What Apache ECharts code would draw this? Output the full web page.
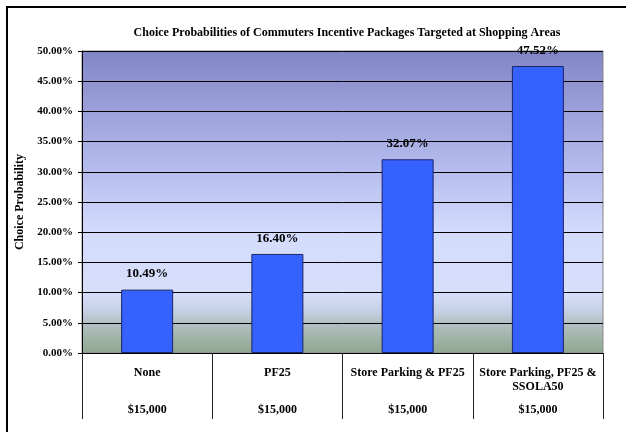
<!DOCTYPE html>
<html>
<head>
<meta charset="utf-8">
<title>Choice Probabilities</title>
<script src="https://cdn.jsdelivr.net/npm/echarts@6/dist/echarts.min.js"></script>
<style>
  html, body { margin: 0; padding: 0; background: #fff; }
  #main { width: 626px; height: 432px; }
</style>
</head>
<body>
<div id="main"></div>
<script type="text/javascript">
// data
var packages = ['None', 'PF25', 'Store Parking & PF25', 'Store Parking, PF25 &\nSSOLA50'];
var incomes = ['$15,000', '$15,000', '$15,000', '$15,000'];
var probabilities = [0.1049, 0.1640, 0.3207, 0.4752];

var serif = '"Liberation Serif", "Times New Roman", serif';
var myChart = echarts.init(document.getElementById('main'));

var option = {
  animation: false,
  title: {
    text: 'Choice Probabilities of Commuters Incentive Packages Targeted at Shopping Areas',
    left: 342,
    textAlign: 'center',
    top: 22,
    textStyle: { fontFamily: serif, fontSize: 12, fontWeight: 'bold', color: '#000' }
  },
  graphic: [{
    type: 'rect',
    shape: { x: 7, y: 7, width: 640, height: 440 },
    style: { fill: 'none', stroke: '#000', lineWidth: 2 },
    silent: true
  }],
  grid: {
    left: 82, right: 23, top: 51, bottom: 79,
    show: true,
    borderColor: '#888',
    borderWidth: 1,
    backgroundColor: new echarts.graphic.LinearGradient(0, 0, 0, 1, [
      { offset: 0, color: '#8185c6' },
      { offset: 0.4, color: '#b6bdee' },
      { offset: 0.6, color: '#d3dcfc' },
      { offset: 0.8, color: '#d6defa' },
      { offset: 0.86, color: '#c6d0e4' },
      { offset: 0.9, color: '#b2c0c2' },
      { offset: 1, color: '#8fa68e' }
    ])
  },
  xAxis: [{
    type: 'category',
    data: packages,
    axisLine: { lineStyle: { color: '#000', width: 1 } },
    axisTick: { show: true, length: 66, lineStyle: { color: '#222' } },
    axisLabel: {
      interval: 0, margin: 13, lineHeight: 14,
      fontFamily: serif, fontSize: 12, fontWeight: 'bold', color: '#000'
    }
  }, {
    type: 'category',
    position: 'bottom',
    data: incomes,
    axisLine: { show: false },
    axisTick: { show: false },
    axisLabel: {
      interval: 0, margin: 51,
      fontFamily: serif, fontSize: 12, fontWeight: 'bold', color: '#000'
    }
  }],
  yAxis: {
    type: 'value',
    min: 0, max: 0.5, interval: 0.05,
    name: 'Choice Probability',
    nameLocation: 'middle',
    nameGap: 53,
    nameTextStyle: { fontFamily: serif, fontSize: 12, fontWeight: 'bold', color: '#000' },
    axisLine: { show: true, lineStyle: { color: '#000' } },
    axisTick: { show: true, length: 4, lineStyle: { color: '#000' } },
    splitLine: { lineStyle: { color: '#000', width: 1 } },
    axisLabel: {
      margin: 9,
      fontFamily: serif, fontSize: 11, fontWeight: 'bold', color: '#000',
      formatter: function (v) { return (v * 100).toFixed(2) + '%'; }
    }
  },
  series: [{
    type: 'bar',
    data: probabilities,
    barWidth: 52,
    itemStyle: { color: '#3562fe', borderColor: '#1a2466', borderWidth: 1 },
    label: {
      show: true, position: 'top', distance: 9,
      fontFamily: serif, fontSize: 13, fontWeight: 'bold', color: '#000',
      formatter: function (p) { return (p.value * 100).toFixed(2) + '%'; }
    }
  }]
};

myChart.setOption(option);
</script>
</body>
</html>
